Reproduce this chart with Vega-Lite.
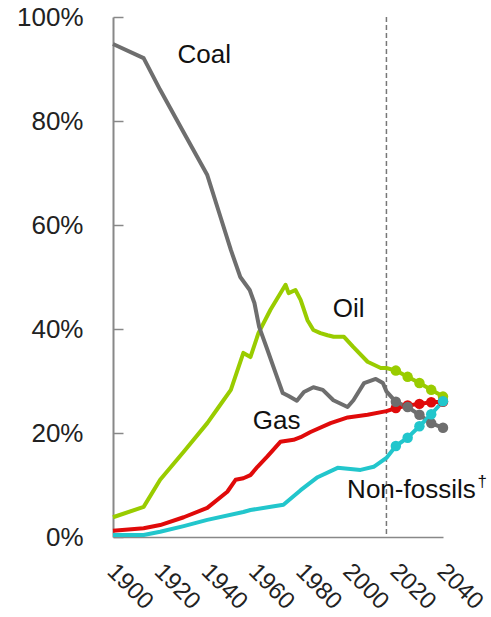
{
  "$schema": "https://vega.github.io/schema/vega-lite/v6.json",
  "width": 330,
  "height": 520,
  "autosize": {"type": "none"},
  "padding": {"left": 113, "top": 17, "right": 48, "bottom": 80},
  "config": {"view": {"stroke": null}, "font": "Liberation Sans"},
  "datasets": {
    "lines": [
      {"series": "Oil", "year": 1900, "share": 3.8},
      {"series": "Oil", "year": 1913, "share": 5.8},
      {"series": "Oil", "year": 1920, "share": 11},
      {"series": "Oil", "year": 1930, "share": 16.4},
      {"series": "Oil", "year": 1940, "share": 21.9},
      {"series": "Oil", "year": 1945, "share": 25.1},
      {"series": "Oil", "year": 1950, "share": 28.3},
      {"series": "Oil", "year": 1955.3, "share": 35.4},
      {"series": "Oil", "year": 1958.3, "share": 34.6},
      {"series": "Oil", "year": 1961.7, "share": 39.2},
      {"series": "Oil", "year": 1966.8, "share": 43.7},
      {"series": "Oil", "year": 1973.2, "share": 48.5},
      {"series": "Oil", "year": 1974.5, "share": 46.9},
      {"series": "Oil", "year": 1977.4, "share": 47.5},
      {"series": "Oil", "year": 1979.6, "share": 45.6},
      {"series": "Oil", "year": 1982.5, "share": 41.7},
      {"series": "Oil", "year": 1985, "share": 39.8},
      {"series": "Oil", "year": 1988, "share": 39.2},
      {"series": "Oil", "year": 1991, "share": 38.8},
      {"series": "Oil", "year": 1993.6, "share": 38.5},
      {"series": "Oil", "year": 1998, "share": 38.5},
      {"series": "Oil", "year": 2002, "share": 36.5},
      {"series": "Oil", "year": 2008, "share": 33.7},
      {"series": "Oil", "year": 2013.6, "share": 32.5},
      {"series": "Oil", "year": 2016, "share": 32.5},
      {"series": "Oil", "year": 2020, "share": 32},
      {"series": "Oil", "year": 2025, "share": 30.8},
      {"series": "Oil", "year": 2030, "share": 29.6},
      {"series": "Oil", "year": 2035, "share": 28.3},
      {"series": "Oil", "year": 2040, "share": 27},
      {"series": "Gas", "year": 1900, "share": 1.2},
      {"series": "Gas", "year": 1913, "share": 1.7},
      {"series": "Gas", "year": 1920, "share": 2.3},
      {"series": "Gas", "year": 1930, "share": 3.8},
      {"series": "Gas", "year": 1940, "share": 5.6},
      {"series": "Gas", "year": 1948.5, "share": 8.7},
      {"series": "Gas", "year": 1952, "share": 11},
      {"series": "Gas", "year": 1955.3, "share": 11.3},
      {"series": "Gas", "year": 1958.3, "share": 11.9},
      {"series": "Gas", "year": 1961.3, "share": 13.5},
      {"series": "Gas", "year": 1965.5, "share": 15.5},
      {"series": "Gas", "year": 1971, "share": 18.3},
      {"series": "Gas", "year": 1976.6, "share": 18.7},
      {"series": "Gas", "year": 1979.6, "share": 19.2},
      {"series": "Gas", "year": 1983.8, "share": 20.2},
      {"series": "Gas", "year": 1992.3, "share": 21.9},
      {"series": "Gas", "year": 1999.6, "share": 23.0},
      {"series": "Gas", "year": 2008, "share": 23.5},
      {"series": "Gas", "year": 2016, "share": 24.2},
      {"series": "Gas", "year": 2020, "share": 24.8},
      {"series": "Gas", "year": 2025, "share": 25.3},
      {"series": "Gas", "year": 2030, "share": 25.6},
      {"series": "Gas", "year": 2035, "share": 25.9},
      {"series": "Gas", "year": 2040, "share": 26.0},
      {"series": "Coal", "year": 1900, "share": 94.8},
      {"series": "Coal", "year": 1913, "share": 92.1},
      {"series": "Coal", "year": 1920, "share": 86},
      {"series": "Coal", "year": 1930, "share": 77.8},
      {"series": "Coal", "year": 1940, "share": 69.6},
      {"series": "Coal", "year": 1945, "share": 62.4},
      {"series": "Coal", "year": 1950, "share": 55.2},
      {"series": "Coal", "year": 1954, "share": 50},
      {"series": "Coal", "year": 1958, "share": 47.5},
      {"series": "Coal", "year": 1960, "share": 45},
      {"series": "Coal", "year": 1962, "share": 40.4},
      {"series": "Coal", "year": 1965.5, "share": 36},
      {"series": "Coal", "year": 1969, "share": 31.5},
      {"series": "Coal", "year": 1972, "share": 27.7},
      {"series": "Coal", "year": 1974.5, "share": 27.1},
      {"series": "Coal", "year": 1978, "share": 26.2},
      {"series": "Coal", "year": 1981, "share": 27.9},
      {"series": "Coal", "year": 1985, "share": 28.8},
      {"series": "Coal", "year": 1989, "share": 28.3},
      {"series": "Coal", "year": 1993.5, "share": 26.3},
      {"series": "Coal", "year": 1999.5, "share": 25},
      {"series": "Coal", "year": 2002, "share": 26.3},
      {"series": "Coal", "year": 2006.5, "share": 29.6},
      {"series": "Coal", "year": 2011.5, "share": 30.4},
      {"series": "Coal", "year": 2014.5, "share": 29.6},
      {"series": "Coal", "year": 2016, "share": 28.0},
      {"series": "Coal", "year": 2020, "share": 26.0},
      {"series": "Coal", "year": 2025, "share": 25.0},
      {"series": "Coal", "year": 2030, "share": 23.5},
      {"series": "Coal", "year": 2035, "share": 21.9},
      {"series": "Coal", "year": 2040, "share": 21.0},
      {"series": "Non-fossils", "year": 1900, "share": 0.4},
      {"series": "Non-fossils", "year": 1913, "share": 0.4},
      {"series": "Non-fossils", "year": 1920, "share": 1.0},
      {"series": "Non-fossils", "year": 1930, "share": 2.1},
      {"series": "Non-fossils", "year": 1940, "share": 3.3},
      {"series": "Non-fossils", "year": 1955.3, "share": 4.8},
      {"series": "Non-fossils", "year": 1958.3, "share": 5.2},
      {"series": "Non-fossils", "year": 1967, "share": 5.8},
      {"series": "Non-fossils", "year": 1972.3, "share": 6.2},
      {"series": "Non-fossils", "year": 1979.6, "share": 9.0},
      {"series": "Non-fossils", "year": 1986.8, "share": 11.5},
      {"series": "Non-fossils", "year": 1995.3, "share": 13.3},
      {"series": "Non-fossils", "year": 2005, "share": 12.9},
      {"series": "Non-fossils", "year": 2010.6, "share": 13.5},
      {"series": "Non-fossils", "year": 2016, "share": 15.2},
      {"series": "Non-fossils", "year": 2020, "share": 17.5},
      {"series": "Non-fossils", "year": 2025, "share": 19.1},
      {"series": "Non-fossils", "year": 2030, "share": 21.3},
      {"series": "Non-fossils", "year": 2035, "share": 23.6},
      {"series": "Non-fossils", "year": 2040, "share": 26.1}
    ],
    "labels": [
      {"label": "Coal", "year": 1938.7, "share": 92.7},
      {"label": "Oil", "year": 2000, "share": 43.8},
      {"label": "Gas", "year": 1969.4, "share": 22.3},
      {"label": "Non-fossils", "year": 2026.6, "share": 9.0}
    ],
    "dagger": [{"label": "†", "year": 2056.6, "share": 10.6}],
    "marker": [{"year": 2016}]
  },
  "layer": [
    {
      "data": {"name": "marker"},
      "mark": {"type": "rule", "strokeDash": [5, 3], "color": "#777777", "strokeWidth": 1.5},
      "encoding": {
        "x": {"field": "year", "type": "quantitative", "title": null}
      }
    },
    {
      "data": {"name": "lines"},
      "mark": {"type": "line", "strokeWidth": 4, "strokeJoin": "round"},
      "encoding": {
        "x": {
          "field": "year", "type": "quantitative", "title": null,
          "scale": {"domain": [1900, 2040], "nice": false, "zero": false},
          "axis": {
            "values": [1900, 1920, 1940, 1960, 1980, 2000, 2020, 2040],
            "format": "d", "grid": false, "ticks": false,
            "domainColor": "#888888", "domainWidth": 1.5,
            "labelAngle": 45, "labelAlign": "left", "labelBaseline": "top",
            "labelPadding": 22, "labelOffset": 6, "labelFontSize": 24, "labelColor": "#222222",
            "labelFlush": false, "labelOverlap": false
          }
        },
        "y": {
          "field": "share", "type": "quantitative", "title": null,
          "scale": {"domain": [0, 100], "nice": false},
          "axis": {
            "values": [0, 20, 40, 60, 80, 100],
            "labelExpr": "datum.value + '%'", "grid": false,
            "domainColor": "#888888", "domainWidth": 2,
            "tickColor": "#888888", "tickWidth": 1.5, "tickSize": -10,
            "labelPadding": 40, "labelFontSize": 26, "labelColor": "#222222"
          }
        },
        "color": {
          "field": "series", "type": "nominal", "legend": null,
          "scale": {"domain": ["Oil", "Gas", "Coal", "Non-fossils"], "range": ["#99cc00", "#e00a0a", "#6e6e6e", "#22c6cc"]}
        }
      }
    },
    {
      "data": {"name": "lines"},
      "transform": [{"filter": "datum.year > 2016"}],
      "mark": {"type": "point", "filled": true, "opacity": 1, "size": 110},
      "encoding": {
        "x": {"field": "year", "type": "quantitative", "title": null},
        "y": {"field": "share", "type": "quantitative", "title": null},
        "color": {"field": "series", "type": "nominal", "legend": null}
      }
    },
    {
      "data": {"name": "labels"},
      "mark": {"type": "text", "fontSize": 26, "color": "#111111", "align": "center", "baseline": "middle"},
      "encoding": {
        "x": {"field": "year", "type": "quantitative", "title": null},
        "y": {"field": "share", "type": "quantitative", "title": null},
        "text": {"field": "label"}
      }
    },
    {
      "data": {"name": "dagger"},
      "mark": {"type": "text", "fontSize": 17, "color": "#111111", "align": "center", "baseline": "middle"},
      "encoding": {
        "x": {"field": "year", "type": "quantitative", "title": null},
        "y": {"field": "share", "type": "quantitative", "title": null},
        "text": {"field": "label"}
      }
    }
  ]
}
